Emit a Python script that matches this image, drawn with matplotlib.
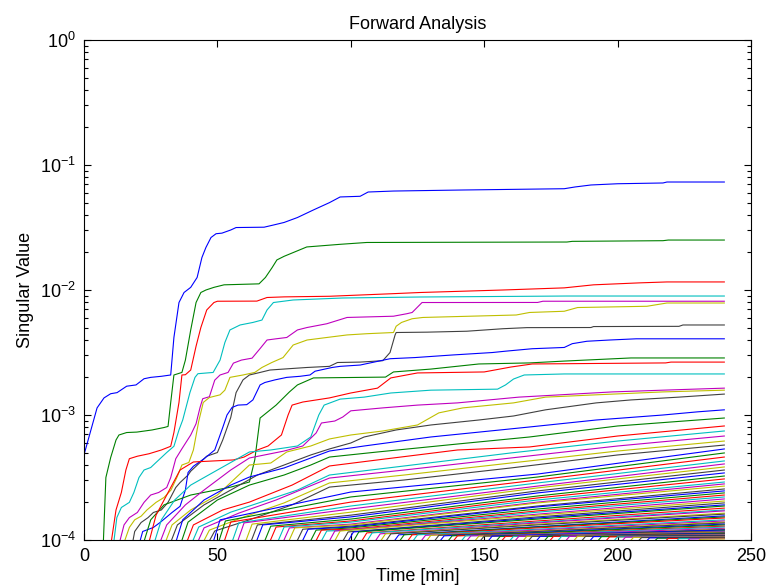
import numpy as np
import matplotlib
matplotlib.use('Agg')
import matplotlib.pyplot as plt
from matplotlib.ticker import LogLocator, NullFormatter, FuncFormatter

plt.rcParams['font.family'] = ['Liberation Sans', 'DejaVu Sans']
plt.rcParams['mathtext.fontset'] = 'custom'
plt.rcParams['mathtext.rm'] = 'Liberation Sans'
plt.rcParams['mathtext.default'] = 'regular'

# matlab default colour order: b g r c m y k
line_colors = [(0, 0, 1), (0, 0.5, 0), (1, 0, 0), (0, 0.75, 0.75),
               (0.75, 0, 0.75), (0.75, 0.75, 0), (0.25, 0.25, 0.25)]

below_axis = 9e-5   # lines come up from under the 1e-4 floor
rise_len = 3        # minutes for a fresh line to come off the floor
t_end = 240
nan = float('nan')

# the upper lines as (time, singular value)
line01 = [(0, 4.8e-4), (4.9, 1.14e-3), (7.5, 1.37e-3), (10, 1.48e-3), (12.4, 1.51e-3), (16, 1.70e-3),
          (19.5, 1.74e-3), (22.5, 1.95e-3), (25, 2.0e-3), (29, 2.04e-3), (32.5, 2.09e-3), (33.7, 4.17e-3),
          (35.6, 7.94e-3), (37.5, 9.55e-3), (40, 1.05e-2), (42.4, 1.26e-2), (44.2, 1.82e-2), (45.7, 2.19e-2),
          (47.6, 2.63e-2), (49.5, 2.82e-2), (51.7, 2.85e-2), (55, 3.02e-2), (57, 3.16e-2), (67.5, 3.18e-2),
          (71, 3.31e-2), (75, 3.47e-2), (80, 3.8e-2), (86, 4.37e-2), (92, 5.0e-2), (96, 5.55e-2),
          (103.5, 5.62e-2), (106.5, 6.08e-2), (116, 6.19e-2), (142, 6.31e-2), (180, 6.46e-2), (184, 6.67e-2),
          (190, 6.92e-2), (200, 7.08e-2), (217, 7.18e-2), (218.5, 7.31e-2), (240, 7.31e-2)]
line02 = [(7.2, 9e-5), (8.2, 3.16e-4), (10, 4.57e-4), (12, 6.31e-4), (13.1, 6.92e-4), (16, 7.24e-4),
          (19.8, 7.3e-4), (25.5, 7.59e-4), (30, 7.94e-4), (31.5, 8.1e-4), (32.5, 1.26e-3), (33.7, 2.09e-3),
          (36.7, 2.19e-3), (38, 2.75e-3), (40, 4.79e-3), (42, 7.94e-3), (43.8, 9.55e-3), (45.7, 1.0e-2),
          (48.7, 1.05e-2), (52.5, 1.10e-2), (65.6, 1.12e-2), (68, 1.26e-2), (70.5, 1.51e-2), (72.3, 1.74e-2),
          (75, 1.86e-2), (83.5, 2.21e-2), (96, 2.32e-2), (106, 2.40e-2), (181, 2.42e-2), (183, 2.45e-2),
          (217, 2.48e-2), (219, 2.51e-2), (240, 2.51e-2)]
line03 = [(10, 9e-5), (12, 1.74e-4), (14, 2.40e-4), (15.7, 3.63e-4), (17, 4.47e-4), (20, 4.68e-4),
          (24.4, 4.90e-4), (29, 5.25e-4), (32.5, 5.62e-4), (33.7, 7.24e-4), (35.6, 1.26e-3), (36.7, 2.09e-3),
          (38, 2.1e-3), (40, 2.29e-3), (42, 3.55e-3), (43.8, 5.01e-3), (46, 6.92e-3), (48.7, 7.94e-3),
          (50, 8.13e-3), (64.8, 8.15e-3), (68.6, 8.71e-3), (75, 8.81e-3), (92, 8.91e-3), (115, 9.33e-3),
          (126, 9.55e-3), (157, 1.0e-2), (180, 1.04e-2), (191, 1.10e-2), (208, 1.14e-2), (218.5, 1.16e-2),
          (240, 1.16e-2)]
line04 = [(11, 9e-5), (12.3, 1.51e-4), (14, 1.82e-4), (17, 2.0e-4), (18.7, 2.40e-4), (20.6, 3.16e-4),
          (22.5, 3.63e-4), (25, 3.80e-4), (27, 4.17e-4), (29, 4.57e-4), (31, 5.01e-4), (33.7, 5.62e-4),
          (35.6, 7.59e-4), (37, 9.12e-4), (39.7, 1.51e-3), (41.6, 2.0e-3), (42.7, 2.14e-3), (48.4, 2.19e-3),
          (51, 2.75e-3), (52.8, 3.80e-3), (54.7, 4.79e-3), (58.5, 5.25e-3), (63.3, 5.50e-3), (66.7, 5.75e-3),
          (68.6, 6.92e-3), (71, 7.94e-3), (78.4, 8.32e-3), (97, 8.63e-3), (126, 8.79e-3), (181, 8.95e-3),
          (240, 8.95e-3)]
line05 = [(13, 9e-5), (15, 1.32e-4), (17, 1.51e-4), (20, 1.66e-4), (22.5, 2.0e-4), (25, 2.29e-4),
          (28, 2.40e-4), (31, 2.63e-4), (32.5, 3.16e-4), (34.4, 4.47e-4), (36.7, 5.37e-4), (40, 6.92e-4),
          (42, 8.51e-4), (43.5, 1.15e-3), (44.5, 1.35e-3), (47, 1.40e-3), (49, 1.9e-3), (51, 2.09e-3),
          (54, 2.19e-3), (56, 2.6e-3), (59, 2.75e-3), (63, 2.85e-3), (66, 3.4e-3), (68.6, 3.98e-3),
          (72, 4.07e-3), (76, 4.17e-3), (80, 4.79e-3), (83.6, 5.01e-3), (91, 5.37e-3), (98.6, 6.03e-3),
          (116, 6.17e-3), (121, 6.46e-3), (123, 6.61e-3), (126.7, 7.94e-3), (170, 7.95e-3), (172, 8.13e-3),
          (240, 8.13e-3)]
line06 = [(14.6, 9e-5), (17, 1.26e-4), (19, 1.45e-4), (21.4, 1.55e-4), (23.6, 1.74e-4), (27, 2.0e-4),
          (30, 2.19e-4), (32.6, 2.51e-4), (34.8, 3.16e-4), (36.7, 3.98e-4), (39.3, 4.17e-4), (41, 5.25e-4),
          (43, 8.91e-4), (44.7, 1.26e-3), (47, 1.38e-3), (51, 1.45e-3), (52.8, 1.58e-3), (54.7, 2.0e-3),
          (59.6, 2.09e-3), (64, 2.19e-3), (66.7, 2.40e-3), (70.4, 2.63e-3), (74.6, 2.88e-3), (78.4, 3.63e-3),
          (83.6, 3.98e-3), (91, 4.17e-3), (98.6, 4.37e-3), (106, 4.47e-3), (116, 4.57e-3), (117, 5.13e-3),
          (119, 5.50e-3), (123, 5.89e-3), (127, 6.03e-3), (162, 6.31e-3), (167, 6.61e-3), (180, 6.76e-3),
          (185, 7.24e-3), (211, 7.41e-3), (218.5, 7.87e-3), (240, 7.87e-3)]
line07 = [(18, 9e-5), (19, 1.17e-4), (21.4, 1.38e-4), (24, 1.51e-4), (26, 1.66e-4), (29, 1.74e-4),
          (31.5, 2.0e-4), (34.4, 2.63e-4), (36, 2.88e-4), (39, 3.31e-4), (40, 3.55e-4), (46, 4.68e-4),
          (50, 5.01e-4), (52, 6.31e-4), (55, 9.55e-4), (57, 1.51e-3), (59.6, 1.91e-3), (62, 2.09e-3),
          (66, 2.19e-3), (69.7, 2.29e-3), (76, 2.34e-3), (83.6, 2.40e-3), (92, 2.45e-3), (95, 2.63e-3),
          (103.5, 2.65e-3), (112, 2.72e-3), (114.7, 3.16e-3), (116.6, 4.37e-3), (117, 4.57e-3),
          (128.6, 4.6e-3), (143.5, 4.68e-3), (157, 4.90e-3), (166, 5.0e-3), (190, 5.01e-3), (191, 5.1e-3),
          (223, 5.12e-3), (224.5, 5.25e-3), (240, 5.25e-3)]
line08 = [(20.5, 9e-5), (22, 1.17e-4), (26, 1.26e-4), (28.5, 1.38e-4), (33, 1.66e-4), (36, 1.86e-4),
          (38, 2.51e-4), (39, 3.47e-4), (41, 3.89e-4), (45, 4.47e-4), (49, 5.25e-4), (52, 7.94e-4),
          (53.6, 1.0e-3), (55.5, 1.15e-3), (57.7, 1.20e-3), (61, 1.21e-3), (63.3, 1.32e-3), (66, 1.74e-3),
          (67.8, 1.82e-3), (71.6, 1.91e-3), (76, 2.0e-3), (81, 2.04e-3), (84.7, 2.09e-3), (86.6, 2.24e-3),
          (93, 2.40e-3), (96, 2.45e-3), (103.5, 2.51e-3), (114.7, 2.82e-3), (124, 2.88e-3), (138, 3.02e-3),
          (153, 3.16e-3), (158, 3.24e-3), (168, 3.39e-3), (180, 3.47e-3), (183, 3.72e-3), (188.5, 3.89e-3),
          (197, 3.98e-3), (207, 4.07e-3), (240, 4.07e-3)]
line09 = [(22, 9e-5), (25, 1.45e-4), (30, 1.91e-4), (40, 2.29e-4), (55, 2.65e-4), (62, 2.91e-4),
          (64, 4.37e-4), (66, 9.46e-4), (72, 1.20e-3), (77, 1.53e-3), (80, 1.74e-3), (86, 1.98e-3),
          (113, 2.01e-3), (116, 2.21e-3), (130, 2.33e-3), (148, 2.56e-3), (167, 2.61e-3), (180, 2.70e-3),
          (205, 2.86e-3), (240, 2.86e-3)]
line10 = [(24, 9e-5), (27, 1.58e-4), (32, 2.51e-4), (36, 3.63e-4), (41, 4.21e-4), (56, 4.37e-4),
          (60, 4.61e-4), (65, 5.25e-4), (69, 5.65e-4), (74, 6.92e-4), (76.5, 1.0e-3), (78, 1.20e-3),
          (82, 1.27e-3), (92, 1.37e-3), (100, 1.50e-3), (110, 1.64e-3), (115, 1.98e-3), (125, 2.17e-3),
          (150, 2.21e-3), (160, 2.42e-3), (168, 2.56e-3), (218, 2.61e-3), (220, 2.65e-3), (240, 2.65e-3)]
line11 = [(26, 9e-5), (29, 1.45e-4), (34, 2.09e-4), (40, 2.75e-4), (50, 3.63e-4), (62, 5.06e-4),
          (70, 5.25e-4), (80, 5.65e-4), (85, 6.67e-4), (88, 1.0e-3), (90, 1.20e-3), (96, 1.34e-3),
          (105, 1.39e-3), (115, 1.50e-3), (130, 1.58e-3), (155, 1.61e-3), (158, 1.74e-3), (161, 1.94e-3),
          (165, 2.09e-3), (180, 2.13e-3), (240, 2.13e-3)]
line12 = [(28, 9e-5), (31, 1.32e-4), (38, 1.91e-4), (45, 2.51e-4), (55, 3.63e-4), (62, 4.53e-4),
          (75, 5.15e-4), (82, 5.65e-4), (87, 7.18e-4), (89, 8.63e-4), (94, 8.95e-4), (97, 9.64e-4),
          (100, 1.08e-3), (112, 1.14e-3), (125, 1.20e-3), (140, 1.25e-3), (163, 1.39e-3), (198, 1.53e-3),
          (217, 1.58e-3), (240, 1.64e-3)]
line13 = [(30, 9e-5), (33, 1.32e-4), (40, 1.74e-4), (50, 2.29e-4), (62, 3.98e-4), (70, 4.13e-4),
          (76, 5.06e-4), (85, 5.65e-4), (92, 6.43e-4), (100, 6.92e-4), (112, 7.45e-4), (125, 8.32e-4),
          (133, 1.04e-3), (142, 1.14e-3), (161, 1.25e-3), (173, 1.39e-3), (192, 1.45e-3), (217, 1.53e-3),
          (240, 1.58e-3)]
line14 = [(32, 9e-5), (35, 1.32e-4), (45, 1.91e-4), (55, 2.51e-4), (65, 3.31e-4), (75, 3.98e-4),
          (85, 4.79e-4), (92, 5.35e-4), (100, 5.97e-4), (105, 6.67e-4), (117, 7.59e-4), (130, 8.32e-4),
          (148, 9.12e-4), (161, 9.82e-4), (173, 1.10e-3), (192, 1.25e-3), (205, 1.32e-3), (223, 1.39e-3),
          (240, 1.47e-3)]
line15 = [(34, 9e-5), (37, 1.45e-4), (45, 2.09e-4), (55, 2.75e-4), (62, 3.19e-4), (75, 3.77e-4),
          (85, 4.53e-4), (92, 5.15e-4), (105, 5.65e-4), (130, 6.67e-4), (167, 8.02e-4), (192, 9.12e-4),
          (217, 1.0e-3), (230, 1.06e-3), (240, 1.10e-3)]
line16 = [(36, 9e-5), (39, 1.39e-4), (50, 2.09e-4), (62, 2.75e-4), (75, 3.31e-4), (85, 3.98e-4),
          (92, 4.61e-4), (110, 5.06e-4), (140, 5.86e-4), (167, 6.67e-4), (200, 8.17e-4), (240, 9.46e-4)]
line17 = [(38, 9e-5), (41, 1.32e-4), (52, 1.74e-4), (62, 2.01e-4), (78, 2.75e-4), (92, 3.91e-4),
          (110, 4.37e-4), (140, 5.25e-4), (167, 5.55e-4), (200, 6.79e-4), (240, 8.17e-4)]
line18 = [(40, 9e-5), (43, 1.27e-4), (55, 1.67e-4), (62, 1.87e-4), (80, 2.51e-4), (92, 3.31e-4),
          (120, 3.91e-4), (160, 4.97e-4), (200, 6.19e-4), (240, 7.45e-4)]
line19 = [(42, 9e-5), (45, 1.25e-4), (58, 1.64e-4), (72, 2.09e-4), (92, 3.13e-4), (120, 3.63e-4),
          (160, 4.53e-4), (200, 5.65e-4), (240, 6.79e-4)]
line20 = [(44, 9e-5), (47, 1.20e-4), (60, 1.53e-4), (75, 1.98e-4), (92, 2.86e-4), (120, 3.31e-4),
          (160, 4.13e-4), (200, 5.15e-4), (240, 6.19e-4)]
line21 = [(46, 9e-5), (49, 1.18e-4), (62, 1.45e-4), (78, 1.91e-4), (92, 2.65e-4), (120, 3.02e-4),
          (160, 3.77e-4), (200, 4.79e-4), (240, 5.75e-4)]

top_lines = [line01, line02, line03, line04, line05, line06, line07, line08, line09, line10, line11,
             line12, line13, line14, line15, line16, line17, line18, line19, line20, line21]

# the dense bundle underneath (lines 22..90): start time, value just after the rise,
# value at t=100, at t=170 and at the end (units of 1e-4)
bundle_t0 = [48, 50, 52, 55, 57, 60, 62, 64, 67, 69, 72, 74, 76, 79, 81, 84, 86, 88, 91, 93,
             96, 98, 100, 103, 105, 108, 110, 112, 115, 117, 120, 122, 125, 127, 130, 132, 135, 137, 140, 142,
             145, 147, 150, 153, 155, 158, 160, 163, 165, 168, 171, 173, 176, 179, 182, 185, 188, 191, 194, 197,
             200, 203, 206, 209, 212, 216, 220, 224, 228]
bundle_v_rise = [1.45, 1.42, 1.39, 1.37, 1.37, 1.34, 1.32, 1.32, 1.29, 1.27,
                 1.27, 1.25, 1.25, 1.22, 1.22, 1.20, 1.20, 1.18, 1.18, 1.18,
                 1.16, 1.16, 1.16, 1.14, 1.14, 1.12, 1.12, 1.12, 1.10, 1.10,
                 1.10, 1.10, 1.09, 1.09, 1.09, 1.08, 1.08, 1.08, 1.08, 1.08,
                 1.075, 1.075, 1.075, 1.07, 1.07, 1.07,
                 1.07, 1.07, 1.07, 1.07, 1.07, 1.07, 1.07, 1.07, 1.07, 1.07, 1.065, 1.065, 1.06, 1.06,
                 1.055, 1.05, 1.045, 1.04, 1.035, 1.03, 1.025, 1.02, 1.015]
bundle_v100 = [2.42, 2.21, 2.01, 1.87, 1.77, 1.67, 1.58, 1.53, 1.47, 1.42,
               1.39, 1.34, 1.32, 1.29, 1.27, 1.25, 1.22, 1.20] + [nan] * 51
bundle_v170 = [3.37, 3.19, 3.02, 2.86, 2.70, 2.61, 2.47, 2.38, 2.25, 2.17,
               2.09, 2.01, 1.98, 1.87, 1.84, 1.77, 1.71, 1.67, 1.61, 1.58,
               1.53, 1.50, 1.47, 1.42, 1.39, 1.37, 1.34, 1.32, 1.28, 1.27,
               1.25, 1.22, 1.20, 1.18, 1.17, 1.15, 1.14, 1.12, 1.11, 1.10,
               1.08, 1.08] + [nan] * 27
bundle_v240 = [5.35, 4.97, 4.61, 4.29, 4.06, 3.84, 3.63, 3.44, 3.25, 3.08,
               2.91, 2.81, 2.70, 2.56, 2.47, 2.38, 2.29, 2.21, 2.13, 2.05,
               1.98, 1.91, 1.87, 1.80, 1.74, 1.71, 1.64, 1.61, 1.56, 1.53,
               1.50, 1.45, 1.42, 1.39, 1.37, 1.34, 1.32, 1.29, 1.27, 1.24,
               1.22, 1.21, 1.20, 1.18, 1.17, 1.165,
               1.16, 1.15, 1.14, 1.13, 1.12, 1.11, 1.10, 1.095, 1.09, 1.085, 1.08, 1.075, 1.07, 1.065,
               1.06, 1.055, 1.05, 1.045, 1.04, 1.035, 1.03, 1.025, 1.02]

fig = plt.figure(figsize=(7.67, 5.87), dpi=100)
ax = fig.add_axes([84 / 767, 47 / 587, 667 / 767, 500 / 587])

k = 0
for pts in top_lines:
    ax.plot([p[0] for p in pts], [p[1] for p in pts], color=line_colors[k % 7], lw=0.8)
    k += 1

for i in range(len(bundle_t0)):
    t = [bundle_t0[i], bundle_t0[i] + rise_len]
    v = [below_axis, bundle_v_rise[i] * 1e-4]
    for tk, vk in ((100, bundle_v100[i]), (170, bundle_v170[i])):
        if not np.isnan(vk) and tk > t[-1]:
            t.append(tk)
            v.append(vk * 1e-4)
    t.append(t_end)
    v.append(bundle_v240[i] * 1e-4)
    ax.plot(t, v, color=line_colors[k % 7], lw=0.8)
    k += 1

ax.set_yscale('log')
ax.set_xlim(0, 250)
ax.set_ylim(1e-4, 1)
ax.set_xticks([0, 50, 100, 150, 200, 250])
ax.yaxis.set_major_locator(LogLocator(base=10, numticks=10))
ax.yaxis.set_minor_locator(LogLocator(base=10, subs=np.arange(2, 10), numticks=10))
ax.yaxis.set_major_formatter(FuncFormatter(lambda val, pos: r'$10^{%d}$' % round(np.log10(val))))
ax.yaxis.set_minor_formatter(NullFormatter())
ax.tick_params(which='both', direction='in', top=True, right=True, labelsize=13, width=0.8)
ax.tick_params(which='major', length=5, pad=6)
ax.tick_params(which='minor', length=3)
for s in ax.spines.values():
    s.set_linewidth(0.8)

ax.set_title('Forward Analysis', fontsize=13, pad=8)
ax.set_xlabel('Time [min]', fontsize=13, labelpad=2)
ax.set_ylabel('Singular Value', fontsize=13, labelpad=4)

fig.savefig('out.png', dpi=100)
